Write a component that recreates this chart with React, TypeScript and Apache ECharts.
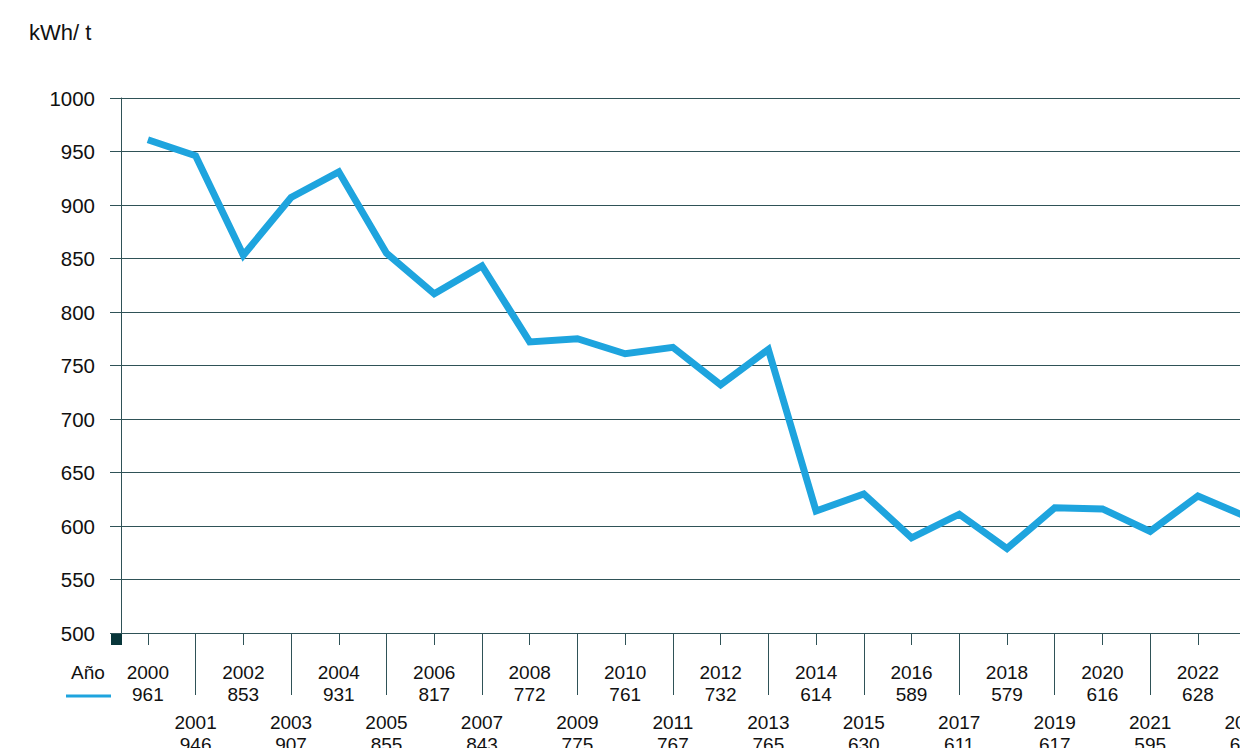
import React, { useEffect, useRef } from "react";
import * as echarts from "echarts";

const years = ["2000","2001","2002","2003","2004","2005","2006","2007","2008","2009","2010","2011","2012","2013","2014","2015","2016","2017","2018","2019","2020","2021","2022","2023"];
const values = [961,946,853,907,931,855,817,843,772,775,761,767,732,765,614,630,589,611,579,617,616,595,628,609];
const yTicks = { min: 500, max: 1000, interval: 50 };

const AXIS_COLOR = "#2f5257";
const LINE_COLOR = "#1ea4de";
const TEXT_COLOR = "#111111";
const FONT = "'Liberation Sans', Arial, Helvetica, sans-serif";

export default function App() {
  const ref = useRef<HTMLDivElement>(null);
  useEffect(() => {
    if (!ref.current) return;
    const chart = echarts.init(ref.current, null, { renderer: "svg" });
    const labelFor = (even: boolean) => (v: string, i: number) =>
      (i % 2 === 0) === even ? `${v}\n${values[i]}` : "";
    chart.setOption({
      animation: false,
      grid: { left: 124, top: 98, right: 10.5, bottom: 115, containLabel: false, outerBoundsMode: "none" },
      xAxis: [
        {
          type: "category",
          data: years,
          boundaryGap: true,
          axisLine: { show: true, lineStyle: { color: AXIS_COLOR, width: 1 } },
          axisTick: {
            show: true,
            alignWithLabel: true,
            length: 12,
            interval: (i: number) => i % 2 === 0,
            lineStyle: { color: AXIS_COLOR, width: 1 },
          },
          axisLabel: {
            interval: 0,
            margin: 28,
            formatter: labelFor(true),
            color: TEXT_COLOR,
            fontFamily: FONT,
            fontSize: 19,
            lineHeight: 22,
          },
          splitLine: { show: false },
        },
        {
          type: "category",
          data: years,
          position: "bottom",
          boundaryGap: true,
          axisLine: { show: false },
          axisTick: {
            show: true,
            alignWithLabel: true,
            length: 62,
            interval: (i: number) => i % 2 === 1,
            lineStyle: { color: AXIS_COLOR, width: 1 },
          },
          axisLabel: {
            interval: 0,
            margin: 78,
            formatter: labelFor(false),
            color: TEXT_COLOR,
            fontFamily: FONT,
            fontSize: 19,
            lineHeight: 22,
          },
          splitLine: { show: false },
        },
      ],
      yAxis: [
        {
          type: "value",
          min: yTicks.min,
          max: yTicks.max,
          interval: yTicks.interval,
          axisLine: { show: false },
          axisTick: { show: true, length: 14, lineStyle: { color: AXIS_COLOR, width: 1 } },
          axisLabel: {
            margin: 29,
            color: TEXT_COLOR,
            fontFamily: FONT,
            fontSize: 20.5,
            formatter: (v: number) => String(v),
          },
          splitLine: { show: true, lineStyle: { color: AXIS_COLOR, width: 1 } },
        },
        {
          type: "value",
          min: yTicks.min,
          max: yTicks.max,
          interval: yTicks.interval,
          position: "left",
          offset: 3,
          axisLine: { show: true, lineStyle: { color: AXIS_COLOR, width: 1 } },
          axisTick: { show: false },
          axisLabel: { show: false },
          splitLine: { show: false },
        },
      ],
      series: [
        {
          name: "Año",
          type: "line",
          data: values,
          xAxisIndex: 0,
          yAxisIndex: 0,
          showSymbol: false,
          symbol: "none",
          lineStyle: { color: LINE_COLOR, width: 7, join: "miter" },
          itemStyle: { color: LINE_COLOR },
        },
      ],
      graphic: [
        {
          type: "text",
          left: 29,
          top: 21,
          style: { text: "kWh/ t", fill: TEXT_COLOR, font: `22px ${FONT}` },
        },
        {
          type: "rect",
          shape: { x: 111, y: 633, width: 11, height: 12 },
          style: { fill: "#08363a" },
        },
        {
          type: "text",
          left: 71,
          top: 663,
          style: { text: "Año", fill: TEXT_COLOR, font: `19px ${FONT}` },
        },
        {
          type: "line",
          shape: { x1: 66, y1: 696, x2: 111, y2: 696 },
          style: { stroke: LINE_COLOR, lineWidth: 3 },
        },
      ],
    });
    return () => chart.dispose();
  }, []);
  return (
    <div style={{ position: "absolute", left: 0, top: 0, width: 1240, height: 748, overflow: "hidden", background: "#fff" }}>
      <div ref={ref} style={{ width: 1280, height: 748 }} />
    </div>
  );
}
